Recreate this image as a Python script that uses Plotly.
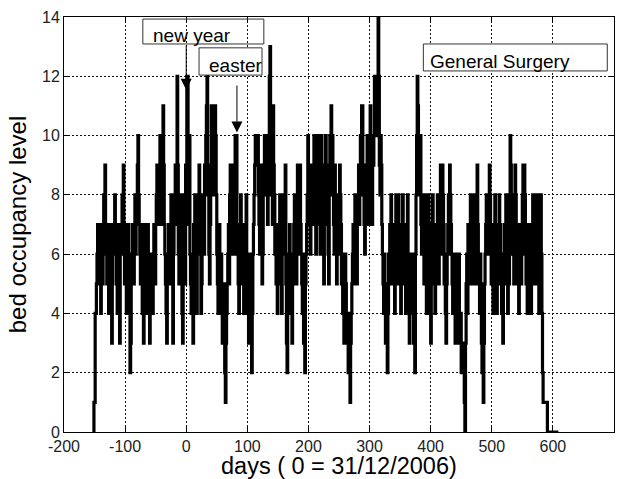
import plotly.graph_objects as go

# ---------------- data ----------------
DAY_START = -152
occupancy = [
    0,1,1,4,4,5,6,7,6,5,7,6,4,6,7,5,6,8,7,9,          # -152
    7,6,5,7,6,4,5,6,7,6,3,5,6,7,6,8,7,6,5,4,          # -132
    6,7,5,3,6,7,6,8,7,9,6,5,7,6,4,5,6,7,5,4,          # -112
    2,3,5,6,7,6,5,7,8,6,7,8,9,10,8,7,6,5,7,6,         # -92
    4,5,3,6,7,6,5,4,6,7,6,5,3,4,5,6,5,4,6,7,          # -72
    6,5,7,8,9,7,8,9,9,10,8,7,9,8,11,9,7,6,5,4,        # -52
    3,5,6,7,6,5,7,8,6,5,3,6,7,8,9,7,8,12,9,6,         # -32
    5,7,6,8,7,4,3,6,8,7,5,9,9,12,12,8,7,10,6,5,       # -12
    4,6,5,3,7,6,8,7,5,4,6,7,8,9,7,6,4,5,7,8,          # 8
    7,6,9,8,10,11,12,9,8,6,5,7,8,11,10,9,11,8,9,11,   # 28
    10,8,6,5,4,6,7,5,4,6,5,3,4,5,3,2,1,3,4,5,         # 48
    6,7,5,8,9,7,6,9,8,7,6,8,10,9,10,7,6,5,4,6,        # 68
    7,8,6,5,7,6,4,5,6,7,8,6,4,5,3,6,5,4,3,2,          # 88
    4,6,7,8,9,10,10,9,10,10,8,7,6,8,9,7,5,6,8,9,      # 108
    10,9,8,10,9,7,8,9,12,13,10,9,8,7,11,9,8,6,7,5,    # 128
    6,4,5,7,6,8,7,5,4,6,7,8,6,7,9,5,3,2,4,5,          # 148
    6,7,5,4,6,3,5,6,7,8,6,7,5,8,9,7,6,8,9,7,          # 168
    6,5,4,6,3,4,2,5,6,7,8,10,9,8,7,6,8,9,7,8,         # 188
    9,10,8,7,6,8,9,10,9,8,7,6,9,10,8,7,6,5,9,8,       # 208
    10,9,7,8,6,5,9,10,8,11,9,10,8,7,6,9,8,7,5,6,      # 228
    7,8,6,9,8,7,5,6,4,5,3,4,6,5,4,3,4,2,3,2,          # 248
    1,3,4,5,6,7,5,6,8,7,6,5,7,8,9,7,8,10,9,11,        # 268
    11,9,8,7,6,8,7,9,10,8,7,9,10,11,9,8,7,10,9,10,    # 288
    12,12,11,12,12,10,15,12,9,8,10,9,7,6,5,4,6,5,3,4, # 308
    3,2,4,6,5,7,6,8,7,6,5,7,6,4,7,8,6,5,7,8,          # 328
    6,7,5,4,6,7,8,6,5,7,6,4,5,7,8,6,5,3,4,6,          # 348
    5,4,6,5,3,4,2,6,8,10,12,11,10,9,8,10,7,6,8,7,     # 368
    6,5,8,7,6,4,5,7,8,6,5,4,3,6,7,8,6,5,7,4,          # 388
    5,6,7,8,6,5,7,8,9,7,6,9,8,7,5,6,4,3,5,6,          # 408
    7,8,6,9,8,7,6,5,4,6,5,4,3,5,6,4,3,5,6,4,          # 428
    3,4,2,3,2,3,2,1,0,3,5,6,4,7,6,5,7,8,6,5,          # 448
    7,6,8,7,6,5,7,8,9,7,6,5,4,6,5,3,2,4,1,3,          # 468
    5,6,7,8,6,7,8,7,9,8,6,5,7,6,4,6,7,8,6,5,          # 488
    4,6,7,5,8,6,7,5,4,6,3,5,6,7,5,8,7,6,4,6,          # 508
    5,8,10,9,7,6,8,6,5,7,9,8,6,5,7,6,4,5,7,6,         # 528
    5,6,8,9,7,9,8,6,5,7,4,6,5,7,6,5,4,6,7,8,          # 548
    7,6,5,8,6,8,7,6,5,4,8,7,8,6,4,2,1,1,1,1,          # 568
    1,1,1,0,0,0,0,0,0,0,0,0,0,0,0,0,0,0,0,0,0,0,      # 588
]
days = list(range(DAY_START, DAY_START + len(occupancy)))

x_ticks = [-200, -100, 0, 100, 200, 300, 400, 500, 600, 700]
y_ticks = [0, 2, 4, 6, 8, 10, 12, 14]

x_title = "days ( 0 = 31/12/2006)"
y_title = "bed occupancy level"
legend_label = "General Surgery"
events = ["new year", "easter"]
event_days = [0, 83]

FONT = "Liberation Sans, Arial, Helvetica, sans-serif"

fig = go.Figure()
fig.add_trace(go.Scatter(
    x=days, y=occupancy, mode="lines", line=dict(color="black", width=3.2, shape="hv"),
    showlegend=False, hoverinfo="skip"))

axis_common = dict(
    showline=True, linecolor="black", linewidth=1, mirror="ticks",
    ticks="inside", ticklen=5, tickcolor="black",
    showgrid=True, gridcolor="#111", gridwidth=1, griddash="2px,2px",
    zeroline=False, tickfont=dict(family=FONT, size=16, color="#222"),
)

fig.update_xaxes(range=[-200, 700], tickvals=x_ticks, ticktext=[str(v) for v in x_ticks],
                 **axis_common)
fig.update_yaxes(range=[0, 14], tickvals=y_ticks, ticktext=[str(v) for v in y_ticks],
                 title=dict(text=y_title, font=dict(family=FONT, size=24, color="black"),
                            standoff=8), **axis_common)

# x-axis title as annotation (tight to tick labels as in reference)
fig.add_annotation(x=0.5, y=-0.083, xref="paper", yref="paper", text=x_title, showarrow=False,
                   xanchor="center", yanchor="middle", font=dict(family=FONT, size=23.5, color="black"))

# legend-like box
fig.add_shape(type="rect", xref="x", yref="y", x0=388, x1=689, y0=12.18, y1=13.09,
              line=dict(color="#333", width=1), fillcolor="white", layer="above")
fig.add_annotation(x=396, y=12.5, xref="x", yref="y", text=legend_label, showarrow=False,
                   xanchor="left", yanchor="middle", font=dict(family=FONT, size=19, color="black"))

# event text boxes
fig.add_shape(type="rect", xref="x", yref="y", x0=-71, x1=127, y0=13.09, y1=13.93,
              line=dict(color="#333", width=1), fillcolor="rgba(0,0,0,0)", layer="above")
fig.add_annotation(x=-57, y=13.37, xref="x", yref="y", text=events[0], showarrow=False,
                   xanchor="left", yanchor="middle", font=dict(family=FONT, size=19, color="black"))
fig.add_shape(type="rect", xref="x", yref="y", x0=21, x1=124, y0=12.04, y1=12.96,
              line=dict(color="#333", width=1), fillcolor="white", layer="above")
fig.add_annotation(x=34, y=12.35, xref="x", yref="y", text=events[1], showarrow=False,
                   xanchor="left", yanchor="middle", font=dict(family=FONT, size=19, color="black"))

# arrows
fig.add_annotation(x=event_days[0], y=11.55, ax=event_days[0], ay=13.09, xref="x", yref="y",
                   axref="x", ayref="y", text="", showarrow=True, arrowhead=2, arrowsize=2.2,
                   arrowwidth=1, arrowcolor="black", standoff=0, startstandoff=0)
fig.add_annotation(x=event_days[1], y=10.1, ax=event_days[1], ay=11.74, xref="x", yref="y",
                   axref="x", ayref="y", text="", showarrow=True, arrowhead=2, arrowsize=2.2,
                   arrowwidth=1, arrowcolor="black", standoff=0, startstandoff=0)

fig.update_layout(
    width=626, height=479,
    margin=dict(l=64, r=12, t=17, b=47, autoexpand=False),
    paper_bgcolor="white", plot_bgcolor="white",
    font=dict(family=FONT, color="black"),
)

fig.write_html("out.html")
